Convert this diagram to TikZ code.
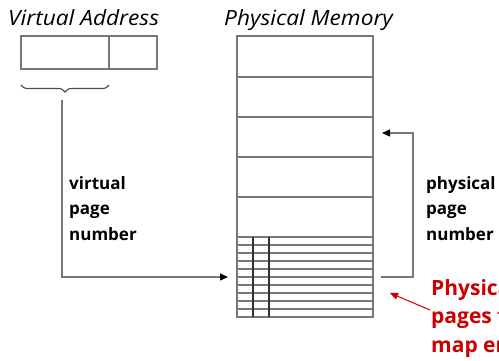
\documentclass[tikz,border=0pt]{standalone}
\usepackage{fontspec}
\setmainfont{Open Sans}
\newfontfamily\titlefont[FakeStretch=1.08]{Open Sans}
\usetikzlibrary{arrows.meta,decorations.pathreplacing}
\definecolor{linegray}{RGB}{120,120,120}
\definecolor{notered}{RGB}{204,0,0}
\begin{document}
\begin{tikzpicture}[x=1pt,y=-1pt,
  frame/.style={draw=linegray,line width=1.4pt},
  thin/.style={draw=linegray,line width=1.2pt},
  cellbox/.style={frame,inner sep=0pt,minimum height=33pt},
  title/.style={anchor=base west,inner sep=0pt,font=\titlefont\fontsize{21}{24}\selectfont\itshape},
  label/.style={anchor=base west,inner sep=0pt,font=\fontsize{17}{20}\selectfont\bfseries},
  note/.style={anchor=base west,inner sep=0pt,text=notered,font=\fontsize{21}{24}\selectfont\bfseries},
  link/.style={draw=linegray,line width=1.3pt,-{Triangle[color=black,length=8pt,width=7pt]}},
  pointer/.style={draw=notered,line width=1pt,-{Triangle[length=8pt,width=7pt]}}]
  \useasboundingbox (0,0) rectangle (499,360);
  \clip (0,0) rectangle (499,360);

  % titles
  \node[title] (vatitle) at (8,25) {Virtual Address};
  \node[title] (pmtitle) at (224,25) {Physical Memory};

  % virtual address: page number field and offset field
  \node[cellbox,minimum width=88pt] (vpn) at (65,52.5) {};
  \node[cellbox,minimum width=48pt] (off) at (133,52.5) {};

  % brace under the page number field
  \draw[draw=black!70,line width=1.1pt,decorate,decoration={brace,mirror,amplitude=7pt}]
    (21,85) -- (109,85);

  % physical memory with its page frames
  \node[frame,inner sep=0pt,minimum width=136pt,minimum height=281pt] (mem) at (305,176.5) {};
  \foreach \y in {77,117,157,197,237}
    \draw[frame] (mem.west |- 0,\y) -- (mem.east |- 0,\y);
  % page table entries in the last frames
  \foreach \y in {245,253,...,309}
    \draw[thin] (mem.west |- 0,\y) -- (mem.east |- 0,\y);
  \draw[draw=black!80,line width=1.2pt] (253,237) -- (253,317);
  \draw[draw=black!80,line width=1.2pt] (269,237) -- (269,317);

  % virtual page number into the page table
  \coordinate (vstart) at (62,100);
  \coordinate (ptin) at (228,277);
  \path[link] (vstart) |- (ptin);

  % physical page number out of the page table
  \coordinate (ptout) at (381,277);
  \coordinate (pframe) at (382,133);
  \path[link] (ptout) -- (413,277) -- (413,133) -- (pframe);

  % labels
  \node[label] (v1) at (69,189) {virtual};
  \node[label] (v2) at (69,214.5) {page};
  \node[label] (v3) at (69,240) {number};
  \node[label] (p1) at (426,189) {physical};
  \node[label] (p2) at (426,214.5) {page};
  \node[label] (p3) at (426,240) {number};

  % note on the page table frames, running past the right edge
  \node[note] (n1) at (431,295) {Physical};
  \node[note] (n2) at (431,323) {pages for};
  \node[note] (n3) at (431,352) {map entries};
  \coordinate (ntail) at (430,310);
  \coordinate (nhead) at (390,293);
  \path[pointer] (ntail) -- (nhead);
\end{tikzpicture}
\end{document}
